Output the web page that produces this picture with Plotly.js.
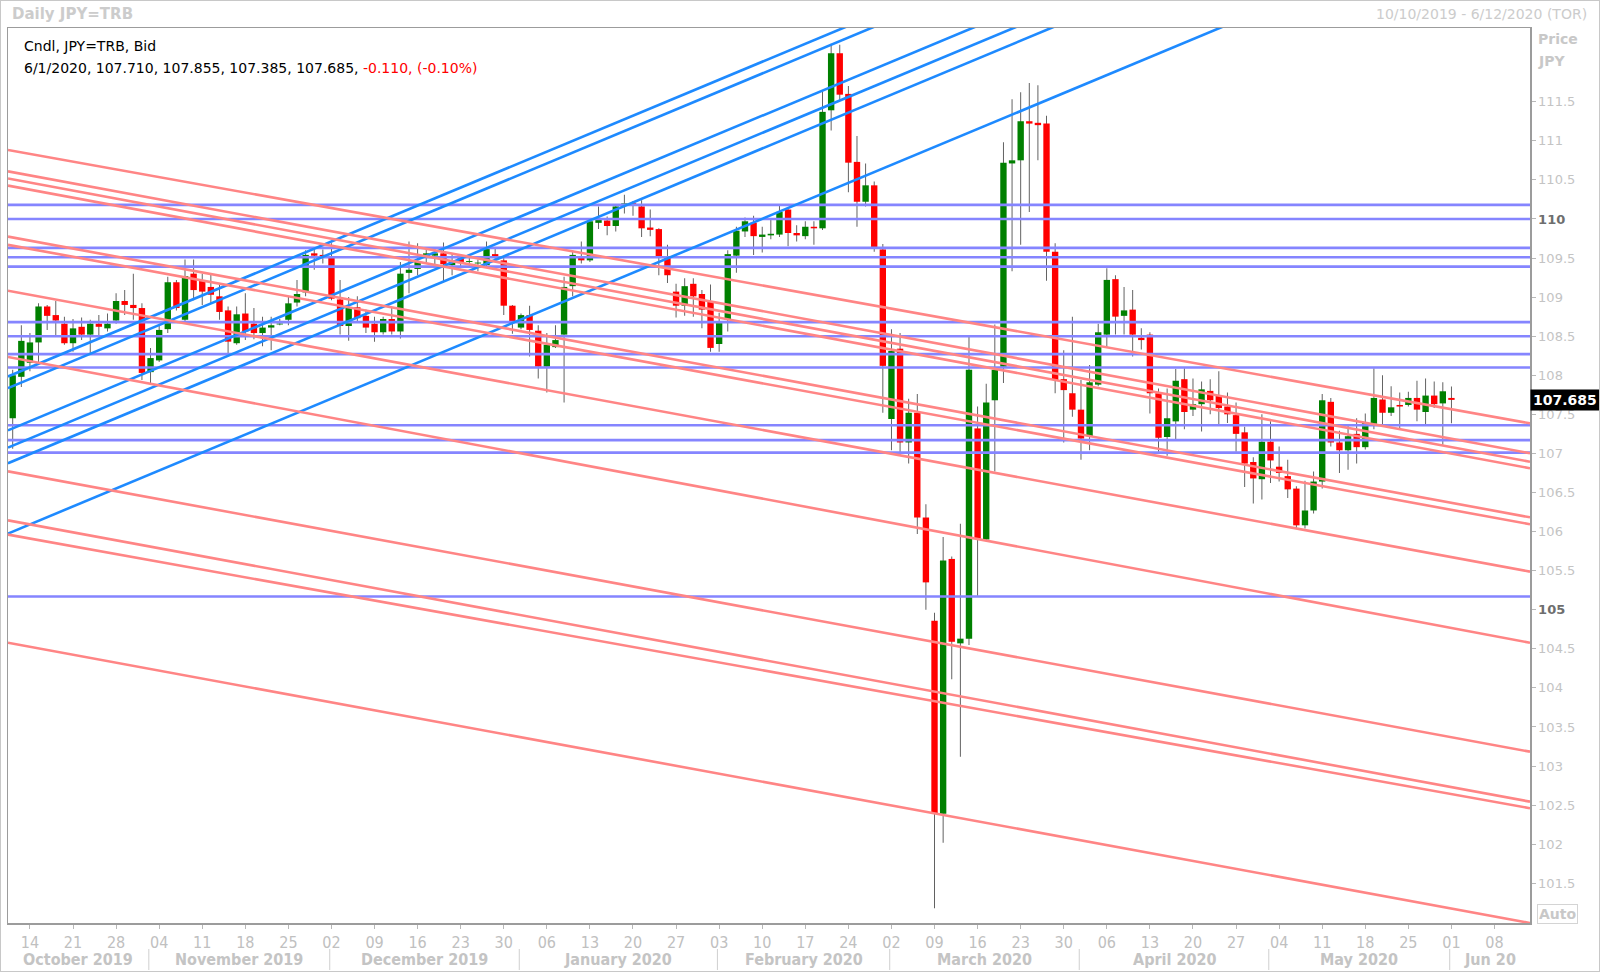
<!DOCTYPE html>
<html><head><meta charset="utf-8">
<script src="https://cdn.plot.ly/plotly-3.0.1.min.js"></script>
<style>
html,body{margin:0;padding:0;background:#fff;}
#wrap{position:relative;width:1600px;height:972px;overflow:hidden;}
#chart{width:1600px;height:972px;}
#frame{position:absolute;left:0;top:0;width:1598px;height:970px;border:1px solid #c8c8c8;pointer-events:none;}
</style>
</head><body>
<div id="wrap"><div id="chart"></div><div id="frame"></div></div>
<script>
// ---------------- DATA ----------------
const firstDate = '2019-10-10';
const calendarEnd = '2020-06-12';

// Daily candles (Oct 10 2019 .. Jun 1 2020)
const openP = [
 // Oct
 107.45,107.98,108.16,108.42,108.88,108.77,108.66,108.41,108.62,108.52,108.66,108.60,108.70,108.95,108.90,108.86,
 // Nov
 108.04,108.19,108.59,109.19,108.71,109.30,109.21,109.13,109.01,108.83,108.41,108.79,108.66,108.54,108.61,108.65,108.71,108.93,109.06,109.56,109.54,
 // Dec
 109.50,108.97,108.63,108.87,108.76,108.66,108.55,108.72,108.56,109.31,109.36,109.51,109.53,109.56,109.41,109.50,109.45,109.43,109.41,109.55,109.47,108.89,
 // Jan
 108.61,108.77,108.57,108.11,108.36,108.52,109.14,109.50,109.47,109.95,109.98,109.91,110.17,110.20,110.16,109.89,109.87,109.50,109.07,108.89,109.17,109.04,108.95,
 // Feb
 108.40,108.71,109.53,109.84,109.95,109.77,109.79,109.80,110.12,109.82,109.78,109.90,109.88,111.39,112.12,111.60,110.73,110.22,110.43,109.61,
 // Mar
 107.44,108.34,107.14,107.52,106.18,104.86,102.39,105.65,104.57,104.63,107.32,105.90,107.68,108.11,110.71,110.75,111.25,111.23,111.22,109.58,107.95,107.77,
 // Apr
 107.56,107.22,107.88,108.52,109.23,108.76,108.84,108.48,108.52,107.77,107.21,107.41,107.95,107.56,107.63,107.80,107.74,107.60,107.49,107.27,106.89,106.67,
 // May
 107.15,106.83,106.71,106.55,106.08,106.27,106.64,107.66,107.14,107.04,107.25,107.08,107.38,107.69,107.52,107.62,107.62,107.71,107.53,107.74,107.64,
 // Jun
 107.710
];
const highP = [
 108.07,108.64,108.54,108.92,108.90,108.95,108.75,108.72,108.74,108.71,108.77,108.79,109.05,109.09,109.30,108.92,
 108.35,108.66,109.26,109.22,109.48,109.48,109.30,109.30,109.18,108.88,108.88,109.05,108.86,108.75,108.75,108.72,109.00,109.22,109.60,109.62,109.61,
 109.69,109.22,109.00,109.01,108.84,108.75,108.75,108.87,109.45,109.71,109.69,109.62,109.62,109.70,109.56,109.55,109.50,109.48,109.71,109.62,109.50,108.90,
 108.79,108.89,108.64,108.54,108.64,109.26,109.60,109.71,110.00,110.16,110.03,110.18,110.31,110.23,110.24,110.12,109.88,109.67,109.17,109.24,109.24,109.09,109.16,
 108.80,109.60,109.90,110.02,110.04,109.90,109.99,110.18,110.15,109.92,109.97,109.97,111.63,112.24,112.23,111.70,111.06,110.71,110.48,109.68,
 108.59,108.54,107.70,107.76,106.35,104.96,105.93,105.68,106.10,108.49,107.60,107.89,108.65,110.98,111.53,111.62,111.74,111.71,111.32,109.69,108.32,108.75,
 107.94,108.13,108.66,109.37,109.28,109.13,109.09,108.60,108.55,107.83,107.83,108.08,108.09,107.96,107.92,107.95,108.05,107.78,107.65,107.34,106.95,107.50,
 107.41,107.09,106.92,106.58,106.65,106.77,107.76,107.71,107.29,107.36,107.45,107.51,108.09,108.00,107.86,107.78,107.79,107.93,107.96,107.92,107.91,
 107.855
];
const lowP = [
 107.06,107.85,108.05,108.15,108.58,108.49,108.39,108.30,108.45,108.28,108.49,108.56,108.66,108.77,108.71,107.94,
 107.90,108.17,108.54,108.83,108.69,108.96,108.90,108.92,108.71,108.28,108.39,108.45,108.46,108.37,108.32,108.64,108.64,108.88,109.01,109.35,109.43,
 108.96,108.52,108.44,108.69,108.54,108.43,108.52,108.52,108.47,109.05,109.28,109.44,109.41,109.19,109.28,109.37,109.38,109.33,109.38,109.45,108.77,108.53,
 108.59,108.24,107.96,107.78,108.35,107.65,109.01,109.43,109.45,109.87,109.79,109.84,110.07,110.04,109.77,109.78,109.28,109.18,108.74,108.76,108.75,108.60,108.30,
 108.30,108.56,109.31,109.77,109.54,109.57,109.74,109.77,109.65,109.71,109.74,109.67,109.86,111.13,111.52,110.34,109.90,110.16,109.58,107.52,
 107.04,106.97,106.87,105.97,105.00,101.18,102.02,104.11,103.12,104.55,105.18,105.88,106.77,107.90,109.33,109.67,110.09,110.75,109.21,107.77,107.14,107.47,
 106.92,107.04,107.86,108.36,108.52,108.52,108.24,108.33,107.51,107.02,106.97,107.17,107.31,107.48,107.28,107.50,107.36,107.39,107.02,106.57,106.36,106.41,
 106.62,106.64,106.43,106.04,106.04,106.23,106.55,107.09,106.75,106.79,106.87,107.05,107.31,107.36,107.48,107.32,107.60,107.41,107.36,107.58,107.11,
 107.385
];
const closeP = [
 108.00,108.44,108.42,108.88,108.76,108.70,108.41,108.60,108.52,108.66,108.62,108.66,108.95,108.90,108.86,108.03,
 108.22,108.58,109.19,108.86,109.27,109.09,109.07,109.03,108.81,108.43,108.78,108.56,108.54,108.61,108.64,108.66,108.92,109.04,109.54,109.53,109.52,
 108.98,108.63,108.87,108.73,108.61,108.55,108.72,108.56,109.30,109.35,109.45,109.56,109.56,109.42,109.46,109.45,109.46,109.44,109.62,109.50,108.89,108.69,
 108.77,108.58,108.11,108.39,108.45,109.13,109.54,109.47,109.97,109.99,109.91,110.16,110.20,110.19,109.88,109.86,109.52,109.28,108.89,109.14,109.01,108.84,108.35,
 108.67,109.55,109.85,109.97,109.78,109.80,109.81,110.09,109.82,109.79,109.90,109.88,111.37,112.12,111.59,110.72,110.22,110.43,109.64,108.12,
 108.31,107.14,107.52,106.18,105.35,102.39,105.63,104.59,104.63,108.07,105.91,107.65,108.07,110.72,110.75,111.25,111.22,111.20,109.58,107.94,107.81,107.56,
 107.19,107.91,108.55,109.22,108.75,108.83,108.52,108.45,107.77,107.20,107.45,107.93,107.53,107.63,107.82,107.68,107.58,107.50,107.25,106.87,106.68,107.15,
 106.91,106.75,106.54,106.08,106.27,106.64,107.68,107.14,107.04,107.22,107.08,107.39,107.71,107.52,107.59,107.60,107.71,107.56,107.74,107.63,107.795,
 107.685
];

// Horizontal support/resistance levels
const hLevels = [110.18, 110.00, 109.63, 109.51, 109.39, 108.68, 108.50, 108.27, 108.10, 107.36, 107.17, 107.01, 105.17];

// Trend lines: value on anchor date A and anchor date B
const lineDateA = '2019-10-10';
const lineDateB = '2020-06-01';
const blueLineA = [108.01, 107.86, 107.32, 107.10, 106.90, 106.00];
const blueLineB = [115.69, 115.54, 115.00, 114.78, 114.58, 113.68];
const redLineA = [110.872, 110.598, 110.506, 110.415, 109.763, 109.658, 109.071, 108.222, 106.760, 106.133, 105.950, 104.566];
const redLineB = [107.566, 107.188, 107.081, 106.997, 106.368, 106.278, 105.673, 104.767, 103.369, 102.730, 102.641, 101.177];

const yTickVals = [101.5,102,102.5,103,103.5,104,104.5,105,105.5,106,106.5,107,107.5,108,108.5,109,109.5,110,110.5,111,111.5];
const boldTicks = [105, 110];
const monthNames = ['October 2019','November 2019','December 2019','January 2020','February 2020','March 2020','April 2020','May 2020','Jun 20'];

// ---------------- CALENDAR ----------------
function tradingDays(start, end) {
  const out = [];
  const d = new Date(start + 'T00:00:00Z');
  const e = new Date(end + 'T00:00:00Z');
  while (d <= e) {
    const wd = d.getUTCDay();
    if (wd !== 0 && wd !== 6) out.push(new Date(d));
    d.setUTCDate(d.getUTCDate() + 1);
  }
  return out;
}
const cal = tradingDays(firstDate, calendarEnd);
const iso = d => d.toISOString().slice(0, 10);
const idxOf = s => cal.findIndex(d => iso(d) === s);
const n = openP.length;
const xs = [];
for (let i = 0; i < n; i++) xs.push(i);

// ---------------- LAYOUT GEOMETRY ----------------
const W = 1600, H = 972;
const mL = 8, mR = 70, mT = 28, mB = 49;
const pw = W - mL - mR, ph = H - mT - mB;
const xRange = [-0.546, 176.12];
const yRange = [100.992, 112.443];
const px = p => (p - mL) / pw;
const py = p => (H - mB - p) / ph;

// ticks: Mondays
const tickvals = [], ticktext = [];
cal.forEach((d, i) => { if (d.getUTCDay() === 1) { tickvals.push(i); ticktext.push(String(d.getUTCDate()).padStart(2, '0')); } });
// month starts
const monthStarts = [];
cal.forEach((d, i) => { if (i > 0 && d.getUTCMonth() !== cal[i - 1].getUTCMonth()) monthStarts.push(i); });

// ---------------- TRACES ----------------
const wickBase = [], wickLen = [], bodyBase = [], bodyLen = [], bodyCol = [];
for (let i = 0; i < n; i++) {
  wickBase.push(lowP[i]); wickLen.push(highP[i] - lowP[i]);
  bodyBase.push(Math.min(openP[i], closeP[i]));
  bodyLen.push(Math.max(Math.abs(closeP[i] - openP[i]), 0.012));
  bodyCol.push(closeP[i] >= openP[i] ? '#008000' : '#ff0000');
}
const traces = [];
traces.push({type:'bar', x: xs, y: wickLen, base: wickBase, width: 0.11,
  marker:{color:'#5a5a5a', line:{width:0}}, hoverinfo:'skip', showlegend:false});
traces.push({type:'bar', x: xs, y: bodyLen, base: bodyBase, width: 0.74,
  marker:{color: bodyCol, line:{width:0}}, hoverinfo:'skip', showlegend:false});

function lineSet(levA, levB, color, width) {
  const iA = idxOf(lineDateA), iB = idxOf(lineDateB);
  const x = [], y = [];
  levA.forEach((a, k) => {
    const b = levB[k];
    const f = t => a + (b - a) * (t - iA) / (iB - iA);
    x.push(xRange[0], xRange[1], null);
    y.push(f(xRange[0]), f(xRange[1]), null);
  });
  return {type:'scatter', mode:'lines', x, y, line:{color, width}, hoverinfo:'skip', showlegend:false, connectgaps:false};
}
traces.push(lineSet(hLevels, hLevels, '#8585ff', 2.6));
traces.push(lineSet(blueLineA, blueLineB, '#1e8aff', 2.6));
traces.push(lineSet(redLineA, redLineB, '#ff8585', 2.6));

// ---------------- ANNOTATIONS ----------------
const last = n - 1;
const chg = closeP[last] - closeP[last - 1];
const pct = chg / closeP[last - 1] * 100;
const lastDate = cal[last];
const lastDateStr = (lastDate.getUTCMonth() + 1) + '/' + lastDate.getUTCDate() + '/' + lastDate.getUTCFullYear();
const firstD = cal[0], endD = cal[cal.length - 1];
const fmtD = d => (d.getUTCMonth() + 1) + '/' + d.getUTCDate() + '/' + d.getUTCFullYear();

const fontMain = 'DejaVu Sans, Verdana, sans-serif';
const annotations = [
  {xref:'paper', yref:'paper', x:px(10), y:py(14), xanchor:'left', yanchor:'middle', showarrow:false,
   text:'<b>Daily JPY=TRB</b>', font:{family:fontMain, size:15, color:'#cccccc'}},
  {xref:'paper', yref:'paper', x:px(1589), y:py(14), xanchor:'right', yanchor:'middle', showarrow:false,
   text: fmtD(firstD) + ' - ' + fmtD(endD) + ' (TOR)', font:{family:fontMain, size:14, color:'#cccccc'}},
  {xref:'paper', yref:'paper', x:px(22), y:py(46), xanchor:'left', yanchor:'middle', showarrow:false,
   text:'Cndl, JPY=TRB, Bid', font:{family:fontMain, size:14, color:'#000000'}},
  {xref:'paper', yref:'paper', x:px(22), y:py(68), xanchor:'left', yanchor:'middle', showarrow:false,
   text: lastDateStr + ', ' + openP[last].toFixed(3) + ', ' + highP[last].toFixed(3) + ', ' + lowP[last].toFixed(3) + ', ' + closeP[last].toFixed(3) + ', ' +
         '<span style="color:#ff0000">' + chg.toFixed(3) + ', (' + pct.toFixed(2) + '%)</span>',
   font:{family:fontMain, size:14, color:'#000000'}},
  {xref:'paper', yref:'paper', x:px(1536), y:py(39), xanchor:'left', yanchor:'middle', showarrow:false,
   text:'<b>Price</b>', font:{family:fontMain, size:14, color:'#c8c8c8'}},
  {xref:'paper', yref:'paper', x:px(1536), y:py(61), xanchor:'left', yanchor:'middle', showarrow:false,
   text:'<b>JPY</b>', font:{family:fontMain, size:14, color:'#c8c8c8'}},
  {xref:'paper', yref:'y', x:1, y:closeP[last], xanchor:'left', yanchor:'middle', showarrow:false,
   text:'<b>' + closeP[last].toFixed(3) + '</b>', bgcolor:'#000000', borderpad:2,
   font:{family:fontMain, size:14, color:'#ffffff'}},
  {xref:'paper', yref:'paper', x:px(1557), y:py(914), xanchor:'center', yanchor:'middle', showarrow:false,
   text:'<b>Auto</b>', bordercolor:'#d4d4d4', borderwidth:1, borderpad:1,
   font:{family:fontMain, size:14, color:'#c8c8c8'}}
];
// month labels
const bounds = [xRange[0]].concat(monthStarts.map(i => i - 0.2)).concat([xRange[1]]);
monthNames.forEach((m, k) => {
  annotations.push({xref:'x', yref:'paper', x:(bounds[k] + bounds[k + 1]) / 2, y:py(959), xanchor:'center', yanchor:'middle',
    showarrow:false, text:'<b>' + m + '</b>', font:{family:'DejaVu Sans Condensed, DejaVu Sans, sans-serif', size:16, color:'#c4c4c4'}});
});
const shapes = monthStarts.map(i => ({type:'line', xref:'x', yref:'paper', x0:i - 0.2, x1:i - 0.2, y0:py(949), y1:py(970),
  line:{color:'#cfcfcf', width:1}}));

const yTickText = yTickVals.map(v => {
  const s = (v % 1 === 0) ? String(v) : v.toFixed(1);
  return boldTicks.includes(v) ? '<b><span style="color:#6e6e6e">' + s + '</span></b>' : s;
});

const layout = {
  width: W, height: H,
  margin: {l:mL, r:mR, t:mT, b:mB, pad:0},
  paper_bgcolor:'#ffffff', plot_bgcolor:'#ffffff',
  showlegend:false, hovermode:false, barmode:'overlay',
  xaxis: {type:'linear', range:xRange, showgrid:false, zeroline:false, tickmode:'array', tickvals, ticktext,
    ticks:'outside', ticklen:4, tickwidth:1, tickcolor:'#b8b8b8',
    tickfont:{family:'Liberation Sans Narrow, DejaVu Sans Condensed, sans-serif', size:16, color:'#c0c0c0'},
    showline:true, mirror:true, linecolor:'#9c9c9c', linewidth:1.5, fixedrange:true},
  yaxis: {side:'right', range:yRange, showgrid:false, zeroline:false, tickmode:'array', tickvals:yTickVals, ticktext:yTickText,
    ticks:'outside', ticklen:4, tickwidth:1, tickcolor:'#b8b8b8',
    tickfont:{family:fontMain, size:13, color:'#c4c4c4'},
    showline:true, mirror:true, linecolor:'#9c9c9c', linewidth:1.5, fixedrange:true},
  annotations, shapes
};
Plotly.newPlot('chart', traces, layout, {displayModeBar:false, staticPlot:true});
</script>
</body></html>
